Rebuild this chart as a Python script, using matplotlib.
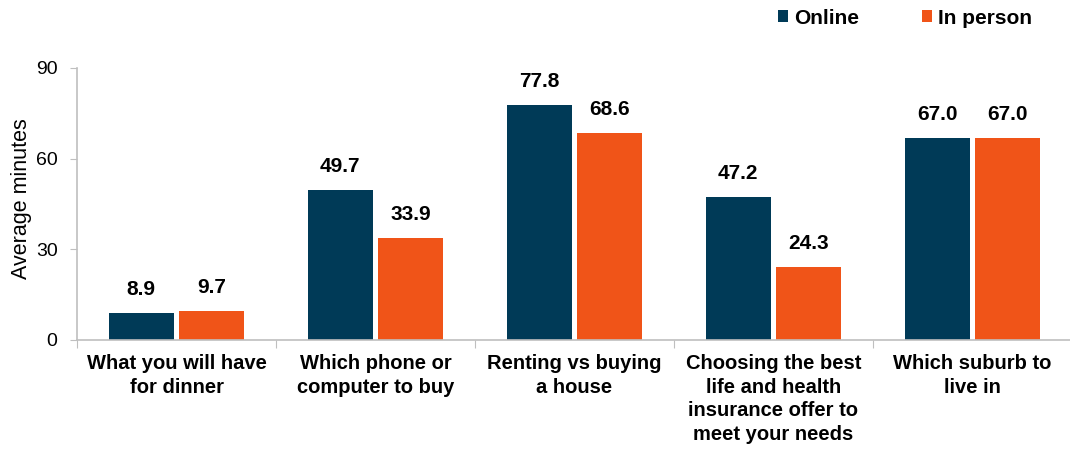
import matplotlib
matplotlib.use("Agg")
import matplotlib.pyplot as plt
import numpy as np

categories = [
    "What you will have\nfor dinner",
    "Which phone or\ncomputer to buy",
    "Renting vs buying\na house",
    "Choosing the best\nlife and health\ninsurance offer to\nmeet your needs",
    "Which suburb to\nlive in",
]
online = [8.9, 49.7, 77.8, 47.2, 67.0]
in_person = [9.7, 33.9, 68.6, 24.3, 67.0]
series_names = ["Online", "In person"]
colors = ["#003A57", "#F05418"]

plt.rcParams["font.family"] = ["Liberation Sans", "DejaVu Sans"]

fig = plt.figure(figsize=(10.7, 4.5), dpi=100)
ax = fig.add_axes([77 / 1070, (450 - 340) / 450, (1072 - 77) / 1070, (340 - 68) / 450])

x = np.arange(len(categories))
w = 0.325
off = 0.1775
b1 = ax.bar(x - off, online, w, color=colors[0], label=series_names[0])
b2 = ax.bar(x + off, in_person, w, color=colors[1], label=series_names[1])

for bars, vals in ((b1, online), (b2, in_person)):
    for rect, v in zip(bars, vals):
        ax.annotate(f"{v:.1f}", (rect.get_x() + rect.get_width() / 2, v),
                    xytext=(0, 10), textcoords="offset points",
                    ha="center", va="bottom", fontsize=15, fontweight="bold")

ax.set_xlim(-0.5, len(categories) - 0.5)
ax.set_ylim(0, 90)
ax.set_yticks([0, 30, 60, 90])
ax.tick_params(axis="y", labelsize=14, length=5, color="#BFBFBF", pad=9)
ax.set_ylabel("Average minutes", fontsize=15.5)
ax.yaxis.set_label_coords(-0.045, 0.52)

ax.set_xticks(np.arange(len(categories) + 1) - 0.5, minor=False)
ax.set_xticklabels([])
ax.tick_params(axis="x", length=6, color="#BFBFBF")
ax.set_xticks(x, minor=True)
ax.set_xticklabels(categories, minor=True, fontsize=14.5, fontweight="bold", linespacing=1.32)
ax.tick_params(axis="x", which="minor", length=0, pad=10)

for s in ("top", "right"):
    ax.spines[s].set_visible(False)
for s in ("left", "bottom"):
    ax.spines[s].set_color("#BFBFBF")
    ax.spines[s].set_linewidth(1.2)

leg = fig.legend(handles=[b1, b2], loc="center", bbox_to_anchor=(905 / 1070, 1 - 18 / 450),
                 ncol=2, frameon=False, handlelength=0.5, handleheight=0.5,
                 handletextpad=0.3, columnspacing=3.0, prop={"weight": "bold", "size": 15})

fig.savefig("out.png", dpi=100)
